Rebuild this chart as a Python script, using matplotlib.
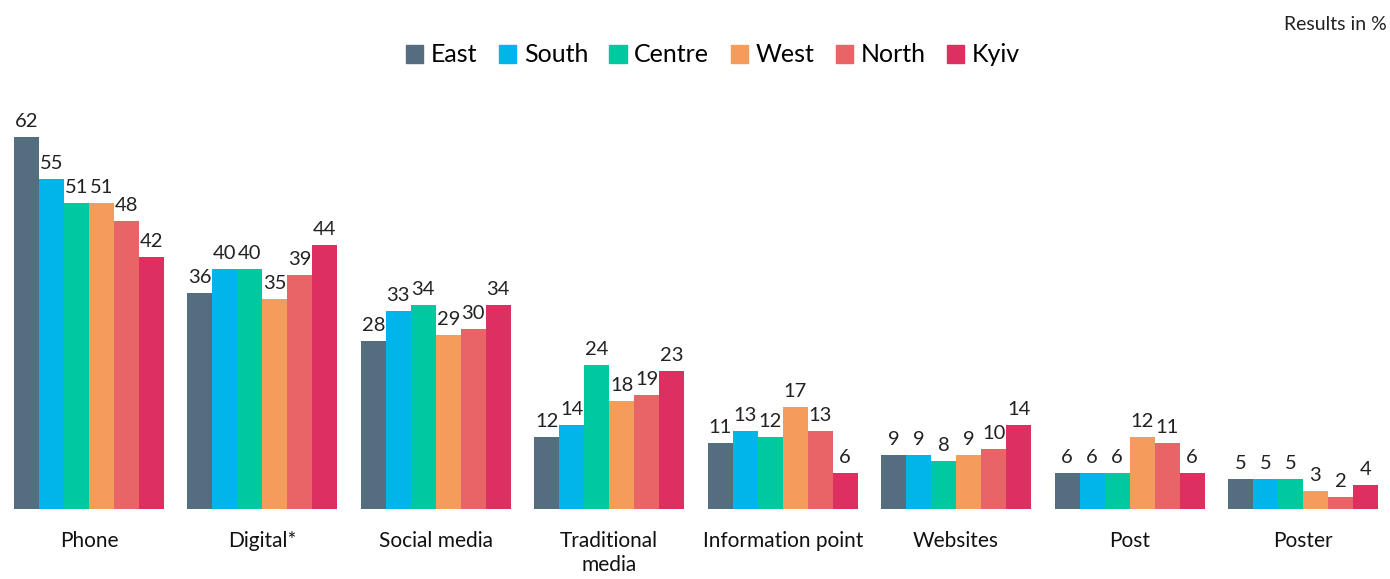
import numpy as np
import matplotlib.pyplot as plt
from matplotlib.patches import Patch

plt.rcParams['font.family'] = ['Lato', 'DejaVu Sans']

# data
categories = ['Phone', 'Digital*', 'Social media', 'Traditional\nmedia',
              'Information point', 'Websites', 'Post', 'Poster']
regions = ['East', 'South', 'Centre', 'West', 'North', 'Kyiv']
east = [62, 36, 28, 12, 11, 9, 6, 5]
south = [55, 40, 33, 14, 13, 9, 6, 5]
centre = [51, 40, 34, 24, 12, 8, 6, 5]
west = [51, 35, 29, 18, 17, 9, 12, 3]
north = [48, 39, 30, 19, 13, 10, 11, 2]
kyiv = [42, 44, 34, 23, 6, 14, 6, 4]
colors = ['#546e7f', '#00b5e9', '#00c9a0', '#f49c5c', '#e96466', '#dd3060']

series = [east, south, centre, west, north, kyiv]

fig = plt.figure(figsize=(13.9, 5.79), dpi=100)
ax = fig.add_axes([14 / 1390, 70 / 579, 1364 / 1390, 420 / 579])

x = np.arange(len(categories))
w = 25 / 173.4
for i, (vals, c) in enumerate(zip(series, colors)):
    pos = x + (i - 2.5) * w
    ax.bar(pos, vals, width=w, color=c, linewidth=0)
    for p, v in zip(pos, vals):
        ax.text(p, v + 1.2, str(v), ha='center', va='bottom', fontsize=14.5, color='#222222')

ax.set_xlim(-3 * w, len(categories) - 1 + 3 * w)
ax.set_ylim(0, 70)
ax.set_xticks(x)
ax.set_xticklabels(categories, fontsize=15, color='#111111', va='top', linespacing=1.25)
ax.tick_params(axis='x', length=0, pad=16)
ax.set_yticks([])
for s in ax.spines.values():
    s.set_visible(False)

handles = [Patch(color=c, label=r) for r, c in zip(regions, colors)]
fig.legend(handles=handles, loc='center', bbox_to_anchor=(713 / 1390, 1 - 55 / 579),
           ncol=6, frameon=False, fontsize=18, handlelength=0.7, handleheight=0.7,
           handletextpad=0.3, columnspacing=0.85)

fig.text(1387 / 1390, 1 - 25 / 579, 'Results in %', ha='right', va='center',
         fontsize=14, color='#222222')

fig.savefig('out.png', dpi=100)
